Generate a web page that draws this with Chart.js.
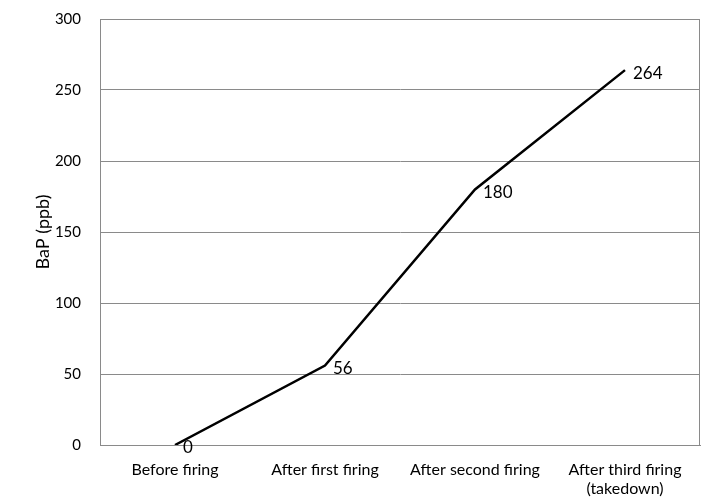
<!DOCTYPE html>
<html lang="en">
<head>
    <meta charset="UTF-8">
    <title>BaP by firing</title>
    <script src="https://cdn.jsdelivr.net/npm/chart.js"></script>
    <style>
        html, body { margin: 0; padding: 0; background: #fff; }
        #wrap { width: 709px; height: 501px; position: relative; }
    </style>
</head>
<body>
    <div id="wrap"><canvas id="chart"></canvas></div>

    <script>
        const stages = ["Before firing", "After first firing", "After second firing", ["After third firing", "(takedown)"]];
        const bapValues = [0, 56, 180, 264];
        const yTicks = [0, 50, 100, 150, 200, 250, 300];

        const fontName = "Lato, 'Open Sans', sans-serif";

        // labels next to each point
        const pointLabels = {
            id: "pointLabels",
            afterDatasetsDraw(chart) {
                const ctx = chart.ctx;
                const meta = chart.getDatasetMeta(0);
                ctx.save();
                ctx.font = "17px " + fontName;
                ctx.fillStyle = "#000";
                ctx.textAlign = "left";
                ctx.textBaseline = "middle";
                meta.data.forEach((pt, i) => {
                    ctx.fillText(String(bapValues[i]), pt.x + 8, pt.y + 3);
                });
                ctx.restore();
            }
        };

        // box around the plot area
        const plotBox = {
            id: "plotBox",
            beforeDatasetsDraw(chart) {
                const a = chart.chartArea;
                const ctx = chart.ctx;
                ctx.save();
                ctx.strokeStyle = "#8a8a8a";
                ctx.lineWidth = 1;
                ctx.strokeRect(a.left + 0.5, a.top + 0.5, a.right - a.left - 1, a.bottom - a.top);
                ctx.restore();
            }
        };

        new Chart(document.getElementById("chart"), {
            type: "line",
            data: {
                labels: stages,
                datasets: [{
                    data: bapValues,
                    borderColor: "#000",
                    borderWidth: 2.5,
                    pointRadius: 0,
                    tension: 0,
                    fill: false
                }]
            },
            options: {
                responsive: true,
                maintainAspectRatio: false,
                animation: false,
                layout: { padding: { top: 19, right: 9, left: 28, bottom: 0 } },
                plugins: {
                    legend: { display: false },
                    tooltip: { enabled: false }
                },
                scales: {
                    x: {
                        offset: true,
                        grid: { display: false },
                        border: { display: true, color: "#8a8a8a" },
                        ticks: {
                            color: "#000",
                            font: { family: fontName, size: 16 },
                            padding: 7,
                            maxRotation: 0,
                            autoSkip: false
                        },
                        afterFit(scale) {
                            scale.height = 56;
                            scale.paddingLeft = 0;
                            scale.paddingRight = 0;
                        }
                    },
                    y: {
                        min: 0,
                        max: 300,
                        afterBuildTicks(scale) {
                            scale.ticks = yTicks.map(v => ({ value: v }));
                        },
                        grid: { color: "#8a8a8a", lineWidth: 1, drawTicks: false },
                        border: { display: true, color: "#8a8a8a" },
                        ticks: {
                            color: "#000",
                            font: { family: fontName, size: 15 },
                            padding: 19
                        },
                        title: {
                            display: true,
                            text: "BaP (ppb)",
                            color: "#000",
                            font: { family: fontName, size: 18 }
                        },
                        afterFit(scale) {
                            scale.width = 72;
                            scale.paddingTop = 0;
                            scale.paddingBottom = 0;
                        }
                    }
                }
            },
            plugins: [plotBox, pointLabels]
        });
    </script>
</body>
</html>
